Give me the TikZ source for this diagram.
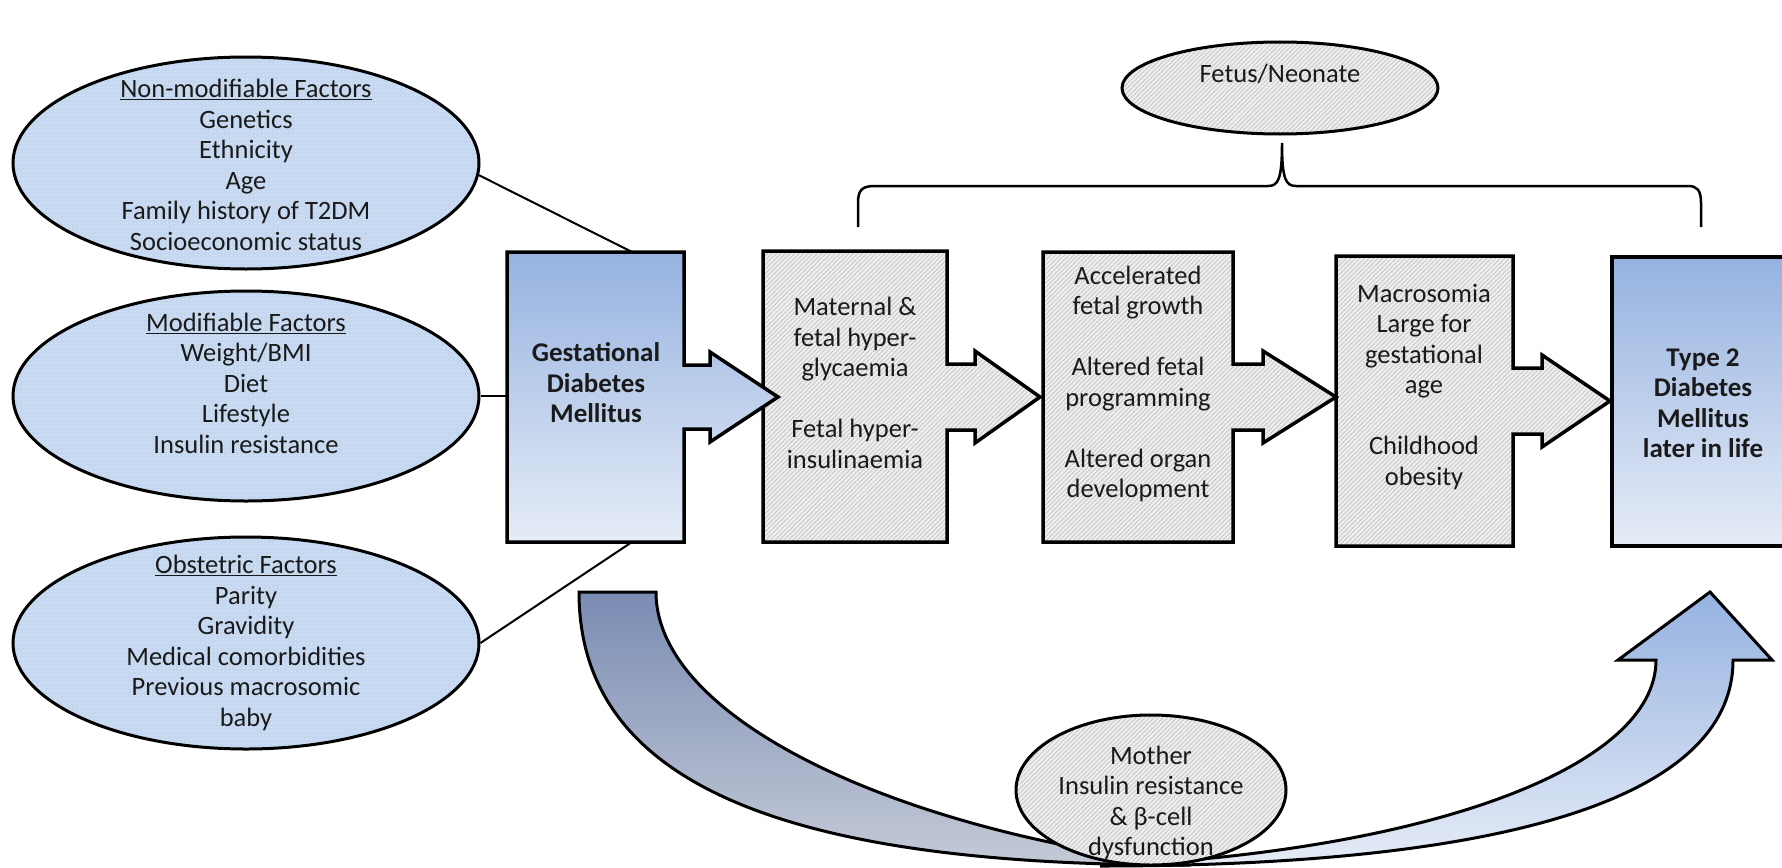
\documentclass[tikz,border=0pt]{standalone}
\usepackage{fontspec}
\setmainfont{Carlito}
\usetikzlibrary{shapes.geometric,patterns.meta}
\definecolor{ellblue}{HTML}{C6D8F0}
\definecolor{dotcol}{HTML}{DDE8F7}
\definecolor{greyfill}{HTML}{EEEEEE}
\definecolor{hatchcol}{HTML}{C2C2C2}
\definecolor{blueTop}{HTML}{95B2E0}
\definecolor{blueBot}{HTML}{E6ECF7}
\definecolor{armTop}{HTML}{7A8CB3}
\definecolor{armBot}{HTML}{C4CAD7}
\definecolor{textcol}{HTML}{1A1A1A}
\begin{document}
\begin{tikzpicture}[x=1pt,y=-1pt,
  txt/.style={font=\fontsize{26.5}{30.5}\selectfont, align=center, inner sep=0pt, text=textcol},
  btxt/.style={txt, font=\fontsize{27}{30.5}\selectfont\bfseries},
  blueell/.style={ellipse, draw, line width=3pt, inner sep=0pt, preaction={fill=ellblue},
    pattern={Dots[distance=4pt,radius=0.7pt]}, pattern color=dotcol},
  greyell/.style={ellipse, draw, line width=3pt, inner sep=0pt, preaction={fill=greyfill},
    pattern={Lines[angle=45,distance=3.2pt,line width=0.7pt]}, pattern color=hatchcol},
  greybox/.style={draw, line width=3.5pt, line join=miter, preaction={fill=greyfill},
    pattern={Lines[angle=45,distance=3.2pt,line width=0.7pt]}, pattern color=hatchcol},
  bluebox/.style={draw, line width=3.5pt, line join=miter, top color=blueTop, bottom color=blueBot},
  conn/.style={draw, line width=2pt},
  bracestyle/.style={draw, line width=2.5pt},
  bigarrow/.style={draw, line width=3pt, line join=miter}]
\path[use as bounding box] (0,0) rectangle (1782,867);
\clip (0,0) rectangle (1782,867);

% left factor ellipses
\node[blueell, minimum width=466pt, minimum height=212pt] (nm) at (246,163) {};
\node[txt] (nmT) at (246,165) {\underline{Non-modifiable Factors}\\Genetics\\Ethnicity\\Age\\Family history of T2DM\\Socioeconomic status};
\node[blueell, minimum width=466pt, minimum height=210pt] (mod) at (246,396) {};
\node[txt] (modT) at (246,383) {\underline{Modifiable Factors}\\Weight/BMI\\Diet\\Lifestyle\\Insulin resistance};
\node[blueell, minimum width=466pt, minimum height=212pt] (obs) at (246,643) {};
\node[txt] (obsT) at (246,643) {\underline{Obstetric Factors}\\Parity\\Gravidity\\Medical comorbidities\\Previous macrosomic\\baby};

% boxes (right to left so arrow tips overlap the next box)
\path[bluebox] (1612,257) rectangle (1800,546);
\node[btxt] (t2) at (1703,403) {Type 2\\Diabetes\\Mellitus\\later in life};

\path[greybox] (1336,256) -- (1513,256) -- (1513,368) -- (1542,368) -- (1542,355) -- (1610,401) -- (1542,447) -- (1542,434) -- (1513,434) -- (1513,546) -- (1336,546) -- cycle;
\node[txt] (b4) at (1424,387) {Macrosomia\\Large for\\gestational\\age\\[30.5pt]Childhood\\obesity};

\path[greybox] (1043,252) -- (1233,252) -- (1233,364) -- (1263,364) -- (1263,351) -- (1336,397) -- (1263,443) -- (1263,430) -- (1233,430) -- (1233,542) -- (1043,542) -- cycle;
\node[txt] (b3) at (1138,384) {Accelerated\\fetal growth\\[30.5pt]Altered fetal\\programming\\[30.5pt]Altered organ\\development};

\path[greybox] (763,251) -- (947,251) -- (947,364) -- (975,364) -- (975,351) -- (1040,397) -- (975,443) -- (975,430) -- (947,430) -- (947,542) -- (763,542) -- cycle;
\node[txt] (b2) at (855,383) {Maternal \&\\fetal hyper-\\glycaemia\\[30.5pt]Fetal hyper-\\insulinaemia};

\path[bluebox] (507,252) -- (684,252) -- (684,365) -- (710,365) -- (710,352) -- (778,397) -- (710,442) -- (710,429) -- (684,429) -- (684,542) -- (507,542) -- cycle;
\node[btxt] (gdm) at (596,383) {Gestational\\Diabetes\\Mellitus};

% connectors
\coordinate (gdmTop) at (632,252);
\coordinate (gdmW) at (507,396);
\coordinate (gdmBot) at (632,542);
\draw[conn] (nm.-3) -- (gdmTop);
\draw[conn] (mod.east) -- (gdmW);
\draw[conn] (obs.east) -- (gdmBot);

% fetus/neonate and brace
\node[greyell, minimum width=316pt, minimum height=92pt] (fetus) at (1280,88) {};
\node[txt] (fetusT) at (1280,74) {Fetus/Neonate};
\draw[bracestyle] (858,227) -- (858,203) .. controls (858,190) and (862,186) .. (875,186) -- (1268,186) .. controls (1278,186) and (1282,180) .. (1282,143) .. controls (1282,180) and (1286,186) .. (1296,186) -- (1688,186) .. controls (1697,186) and (1701,190) .. (1701,203) -- (1701,227);

% big curved arrow
\path[bigarrow, top color=armTop, bottom color=armBot] (579,592) -- (656,592) .. controls (656,720) and (900,832) .. (1190,865) .. controls (780,866) and (579,782) .. (579,592) -- cycle;
\path[bigarrow, top color=blueTop, bottom color=blueBot] (1100,866) .. controls (1500,866) and (1733,800) .. (1733,660) -- (1772,660) -- (1710,592) -- (1618,660) -- (1656,660) .. controls (1656,770) and (1420,852) .. (1100,866) -- cycle;

% mother
\node[greyell, minimum width=270pt, minimum height=150pt] (mother) at (1151,790) {};
\node[txt] (motherT) at (1151,803) {Mother\\Insulin resistance\\\& β-cell\\dysfunction};
\end{tikzpicture}
\end{document}
